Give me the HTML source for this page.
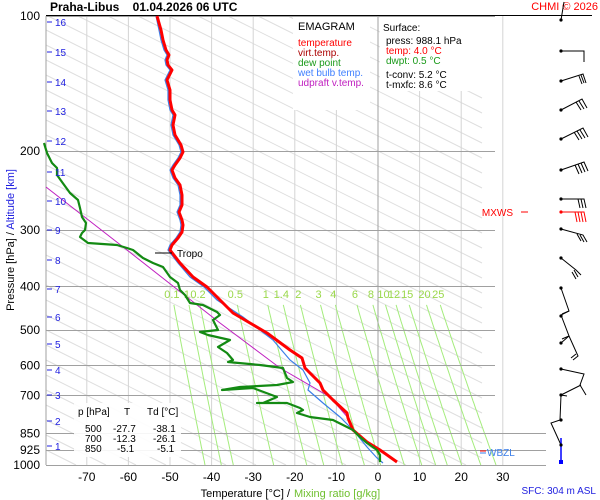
<!DOCTYPE html>
<html><head><meta charset="utf-8"><style>
body{margin:0;background:#fff;width:600px;height:500px;overflow:hidden}
svg{display:block;font-family:"Liberation Sans",sans-serif}
</style></head><body>
<svg id="s" width="600" height="500" viewBox="0 0 600 500" xmlns="http://www.w3.org/2000/svg">
<rect width="600" height="500" fill="#fff"/>
<g id="adiab" stroke="#dedede" stroke-width="1" fill="none"></g>
<g id="vgrid" stroke="#d4d4d4" stroke-width="1"></g>
<g id="mix" stroke="#a4ec7c" stroke-width="1" fill="none"></g>
<g id="mixl" fill="#9ad84a" font-size="11" text-anchor="middle"></g>
<g id="hgrid" stroke="#a0a0a0" stroke-width="1"></g>
<line x1="378" y1="16" x2="378" y2="465" stroke="#a0a0a0"/>
<line x1="46" y1="16" x2="46" y2="465" stroke="#a0a0a0"/>
<line x1="46" y1="15.5" x2="592" y2="15.5" stroke="#000"/>
<rect x="293" y="17" width="77" height="93" fill="#fff"/>
<text x="298" y="30" font-size="11">EMAGRAM</text>
<text x="298" y="46" font-size="10" fill="#f00">temperature</text>
<text x="298" y="56" font-size="10" fill="#a00">virt.temp.</text>
<text x="298" y="66" font-size="10" fill="#1a9a1a">dew point</text>
<text x="298" y="76" font-size="10" fill="#4080ff">wet bulb temp.</text>
<text x="298" y="86" font-size="10" fill="#c020c0">udpraft v.temp.</text>
<rect x="380" y="17" width="103" height="74" fill="#fff"/>
<text x="383" y="31" font-size="10">Surface:</text>
<text x="386" y="44" font-size="10">press: 988.1 hPa</text>
<text x="386" y="54" font-size="10" fill="#f00">temp: 4.0 °C</text>
<text x="386" y="64" font-size="10" fill="#1a9a1a">dwpt: 0.5 °C</text>
<text x="386" y="78" font-size="10">t-conv: 5.2 °C</text>
<text x="386" y="88" font-size="10">t-mxfc: 8.6 °C</text>
<rect x="74" y="403" width="107" height="54" fill="#fff" opacity="0.9"/>
<g font-size="10" fill="#000">
<text x="78" y="415">p [hPa]</text><text x="124" y="415">T</text><text x="147" y="415">Td [°C]</text>
<text x="85" y="432">500</text><text x="113" y="432">-27.7</text><text x="153" y="432">-38.1</text>
<text x="85" y="442">700</text><text x="113" y="442">-12.3</text><text x="153" y="442">-26.1</text>
<text x="85" y="452">850</text><text x="117" y="452">-5.1</text><text x="157" y="452">-5.1</text>
</g>
<polyline fill="none" stroke="#c020c0" stroke-width="1" points="46,187 127,250 220,323 280,368 330,397 350,420"/>
<polyline fill="none" stroke="#3a7ee8" stroke-width="1.2" points="156,16 159,30 161,40 164,50 167,55 165,60 166,65 170,70 165,80 168,90 168,100 170,110 173,115 171,125 173,135 179,145 181,152 178,158 173,165 170,170 173,178 178,185 180,195 180,205 177,212 180,220 181,225 180,232 176,238 170,245 168,250 178,263 190,277 204,287 217,300 243,317 273,340 290,360 303,370 310,383 308,390 323,403 340,417 353,430 367,447 377,458 383,463"/>
<polyline fill="none" stroke="#f00" stroke-width="3" stroke-linejoin="round" points="157,16 161,30 163,40 166,50 169,55 167,60 168,65 172,70 167,80 170,90 170,100 172,110 175,115 173,125 175,135 181,145 183,152 180,158 175,165 172,170 175,178 180,185 182,195 182,205 179,212 182,220 183,225 182,232 178,238 172,245 170,250 180,263 193,277 207,287 220,300 233,313 267,333 290,350 302,358 305,368 320,383 323,390 333,400 347,413 348,418 353,430 367,442 380,450 397,462"/>
<polyline fill="none" stroke="#138a13" stroke-width="2.2" stroke-linejoin="round" points="44,143 47,153 52,163 57,168 57,175 62,182 70,193 78,200 80,208 82,217 86,223 85,230 82,233 80,237 88,243 117,245 127,248 133,250 143,258 153,263 163,267 170,277 178,283 180,290 185,295 190,303 203,305 217,312 220,315 213,320 218,330 200,332 208,335 230,340 218,347 227,353 233,360 228,362 260,365 283,368 287,378 293,382 277,385 240,387 222,390 253,388 277,397 263,403 257,403 287,403 300,408 303,410 297,413 310,417 333,420 347,427 353,430 360,437 367,443 377,450 380,455 380,462"/>
<line x1="155" y1="253" x2="172" y2="253" stroke="#000"/>
<text x="177" y="257" font-size="10">Tropo</text>
<text x="50" y="11" font-size="12" font-weight="bold">Praha-Libus&#160;&#160;&#160;&#160;01.04.2026 06 UTC</text>
<text x="598" y="10" font-size="11" fill="#f00" text-anchor="end">CHMI © 2026</text>
<g id="plab" font-size="12" text-anchor="end"></g>
<g id="tlab" font-size="12" text-anchor="middle"></g>
<g id="klab" font-size="10" fill="#2020e0" stroke="none"></g>
<text x="290" y="497" font-size="11" text-anchor="end">Temperature [°C]  /</text>
<text x="294" y="497" font-size="11" fill="#70c030">Mixing ratio [g/kg]</text>
<text transform="translate(14,240) rotate(-90)" font-size="11" text-anchor="middle"><tspan>Pressure [hPa]  /  </tspan><tspan fill="#2020e0">Altitude [km]</tspan></text>
<text x="487" y="456" font-size="10" fill="#3a7ee8">WBZL</text>
<line x1="480" y1="451" x2="486" y2="451" stroke="#f00"/><line x1="480" y1="453" x2="486" y2="453" stroke="#3a7ee8"/>
<text x="596" y="494" font-size="10" fill="#2020e0" text-anchor="end">SFC: 304 m ASL</text>
<text x="513" y="216" font-size="10" fill="#f00" text-anchor="end">MXWS</text>
<line x1="521" y1="212" x2="528" y2="212" stroke="#f00"/>
<g stroke="#000" stroke-width="1" fill="none">
<path d="M561,20 L564,2"/>
<path d="M561,51 L584,51 L584,62"/>
<path d="M561,81 L583,74 L586,83 M581,75 L584,83 M579,76 L582,84"/>
<path d="M561,110 L582,99 L587,108 M579,101 L584,109 M576,102 L581,110"/>
<path d="M561,139 L583,128 L588,137 M580,130 L585,138 M577,131 L582,139 M574,132 L579,140"/>
<path d="M561,170 L584,162 L588,171 M581,163 L585,172 M578,164 L582,173 M575,165 L579,174"/>
<path d="M561,199 L584,199 L586,208 M581,199 L583,208 M578,199 L580,208"/>
<path d="M561,229 L583,235 L587,242 M580,235 L584,242 M577,234 L581,241"/>
<path d="M561,258 L576,270 L581,275 M574,270 L578,277 M572,272 L576,279"/>
<path d="M561,288 L569,311 L561,315 L569,336 L561,343"/>
<path d="M569,311 L562,314 M569,336 L562,339 M569,336 L578,356 L573,360 M576,354 L571,358"/>
<path d="M561,369 L584,374 L580,385 L586,395 M581,385 L561,395"/>
<path d="M561,395 L567,396 M561,395 L560,420 L551,423 L561,445"/>
</g>
<g stroke="#f00" fill="none"><path d="M561,212 L584,212 L586,222 M581,212 L583,222 M578,212 L580,222 M575,212 L577,222"/></g>
<line x1="561" y1="438" x2="561" y2="462" stroke="#00f" stroke-width="1.5"/>
<g fill="#000"><circle cx="561" cy="20" r="1.6"/><circle cx="561" cy="51" r="1.6"/><circle cx="561" cy="81" r="1.6"/><circle cx="561" cy="110" r="1.6"/><circle cx="561" cy="139" r="1.6"/><circle cx="561" cy="170" r="1.6"/><circle cx="561" cy="199" r="1.6"/><circle cx="561" cy="229" r="1.6"/><circle cx="561" cy="258" r="1.6"/><circle cx="561" cy="288" r="1.6"/><circle cx="561" cy="316" r="1.6"/><circle cx="561" cy="343" r="1.6"/><circle cx="561" cy="369" r="1.6"/><circle cx="561" cy="395" r="1.6"/><circle cx="561" cy="420" r="1.6"/><circle cx="561" cy="445" r="1.6"/></g>
<circle cx="561" cy="212" r="1.6" fill="#f00"/>
<rect x="559" y="460" width="4" height="4" fill="#00f"/>
</svg>
<script>
(function(){
var NS="http://www.w3.org/2000/svg";
function X(t){return 378+t*4.16;}
function Y(p){return 16+449*Math.log10(p/100);}
function el(g,n,a,txt){var e=document.createElementNS(NS,n);for(var k in a)e.setAttribute(k,a[k]);if(txt!==undefined)e.textContent=txt;document.getElementById(g).appendChild(e);}
for(var y0=-210;y0<=465;y0+=15){
 var xa=46,xb=482;
 var ya=y0, yb=y0+0.5*(xb-46);
 if(ya<16){xa=46+(16-y0)*2;ya=16;}
 if(yb>465){xb=46+(465-y0)*2;yb=465;}
 if(xa<xb)el("adiab","line",{x1:xa.toFixed(1),y1:ya.toFixed(1),x2:xb.toFixed(1),y2:yb.toFixed(1)});}
for(var t=-70;t<=30;t+=10){if(t==0)continue;el("vgrid","line",{x1:X(t),y1:16,x2:X(t),y2:465});}
[100,200,300,400,500,600,700,850,925,1000].forEach(function(p){var y=Math.round(Y(p))+0.5;el("hgrid","line",{x1:46,y1:y,x2:(p>=850?546:495),y2:y});
 el("plab","text",{x:40,y:Y(p)+4},String(p));});
for(var t=-70;t<=30;t+=10){el("tlab","text",{x:X(t),y:481},String(t));}
[0.1,0.15,0.2,0.5,1,1.4,2,3,4,6,8,10,12,15,20,25].forEach(function(w){var s="",top=null;
 for(var p=440;p<=1000;p+=10){var e=w*p/(622+w);var l=Math.log(e/6.112);var td=243.5*l/(17.67-l);var x=X(td);if(top===null)top=x;s+=x.toFixed(1)+","+Y(p).toFixed(1)+" ";}
 el("mix","polyline",{points:s});
 var lab=(w==0.15)?"1":String(w);el("mixl","text",{x:top-2,y:298},lab);});
var ky=[446,421,395,370,344,317,289,260,230,201,172,141,111,82,52,22];
for(var k=1;k<=16;k++){var y=ky[k-1];el("klab","line",{x1:47,y1:y,x2:52,y2:y,stroke:"#2020e0"});el("klab","text",{x:55,y:y+4},String(k));}
})();
</script>
</body></html>
